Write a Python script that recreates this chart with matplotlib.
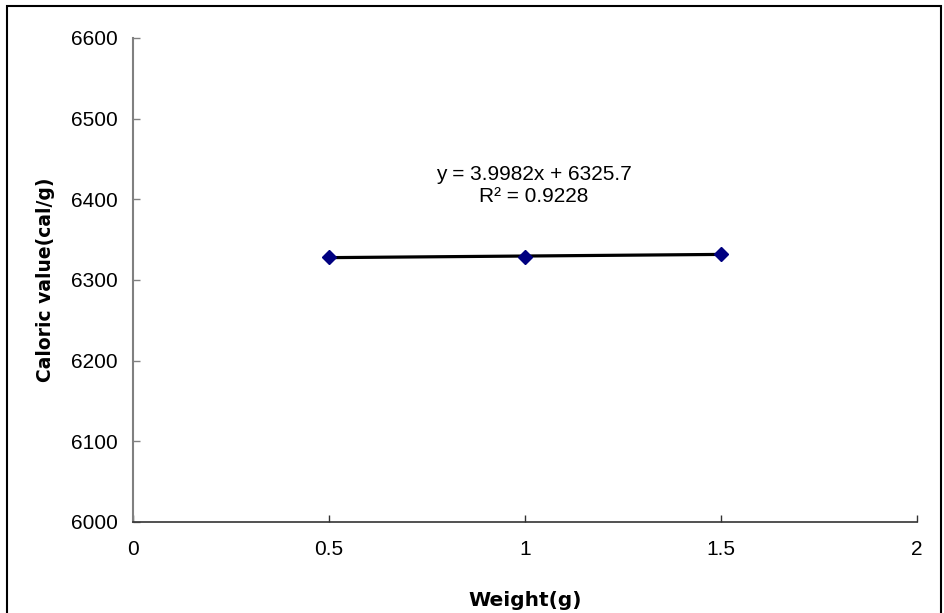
import numpy as np
import matplotlib
matplotlib.use("Agg")
import matplotlib.pyplot as plt
from matplotlib.patches import Rectangle

# data
weight = [0.5, 1.0, 1.5]
caloric = [6328.0, 6329.0, 6332.0]
x_ticks = [0, 0.5, 1, 1.5, 2]
x_tick_labels = ["0", "0.5", "1", "1.5", "2"]
y_ticks = [6000, 6100, 6200, 6300, 6400, 6500, 6600]
eq_text = "y = 3.9982x + 6325.7\nR\u00b2 = 0.9228"


def main():
    plt.rcParams['font.family'] = ['Liberation Sans', 'DejaVu Sans']

    fig = plt.figure(figsize=(9.44, 6.13), dpi=100)
    ax = fig.add_axes([0.1409, 0.1485, 0.8305, 0.7896])

    # linear trendline through the points
    slope, intercept = np.polyfit(weight, caloric, 1)
    xs = np.array([weight[0], weight[-1]])
    ax.plot(xs, slope * xs + intercept, color='black', linewidth=2.3, zorder=2)

    ax.plot(weight, caloric, linestyle='none', marker='D', markersize=7,
            color='#000080', zorder=3)

    ax.text(1.023, 6417, eq_text, ha='center', va='center', fontsize=15,
            linespacing=1.2)

    ax.set_xlim(0, 2)
    ax.set_ylim(6000, 6600)
    ax.set_xticks(x_ticks)
    ax.set_xticklabels(x_tick_labels)
    ax.set_yticks(y_ticks)

    for side in ['top', 'right']:
        ax.spines[side].set_visible(False)
    ax.spines['left'].set_color('#808080')
    ax.spines['left'].set_linewidth(1.5)
    ax.spines['bottom'].set_color('#333333')
    ax.spines['bottom'].set_linewidth(1.2)

    ax.tick_params(axis='y', direction='in', length=5, width=1, color='#808080',
                   labelsize=15, pad=11)
    ax.tick_params(axis='x', direction='in', length=5, width=1, color='#333333',
                   labelsize=15, pad=13)

    ax.set_xlabel('Weight(g)', fontsize=14.5, fontweight='bold',
                  family='DejaVu Sans')
    ax.set_ylabel('Caloric value(cal/g)', fontsize=13.5, fontweight='bold',
                  family='DejaVu Sans')
    ax.xaxis.label.set_va('center')
    ax.yaxis.label.set_va('center')
    ax.xaxis.set_label_coords(0.5, -0.163)
    ax.yaxis.set_label_coords(-0.112, 0.5)

    # outer chart frame (bottom edge falls outside the image)
    fig.patches.append(Rectangle((7 / 944, -10 / 613), 934 / 944, 617 / 613,
                                 transform=fig.transFigure, fill=False,
                                 edgecolor='black', linewidth=1.5))

    fig.savefig('out.png', dpi=100)


if __name__ == "__main__":
    main()
